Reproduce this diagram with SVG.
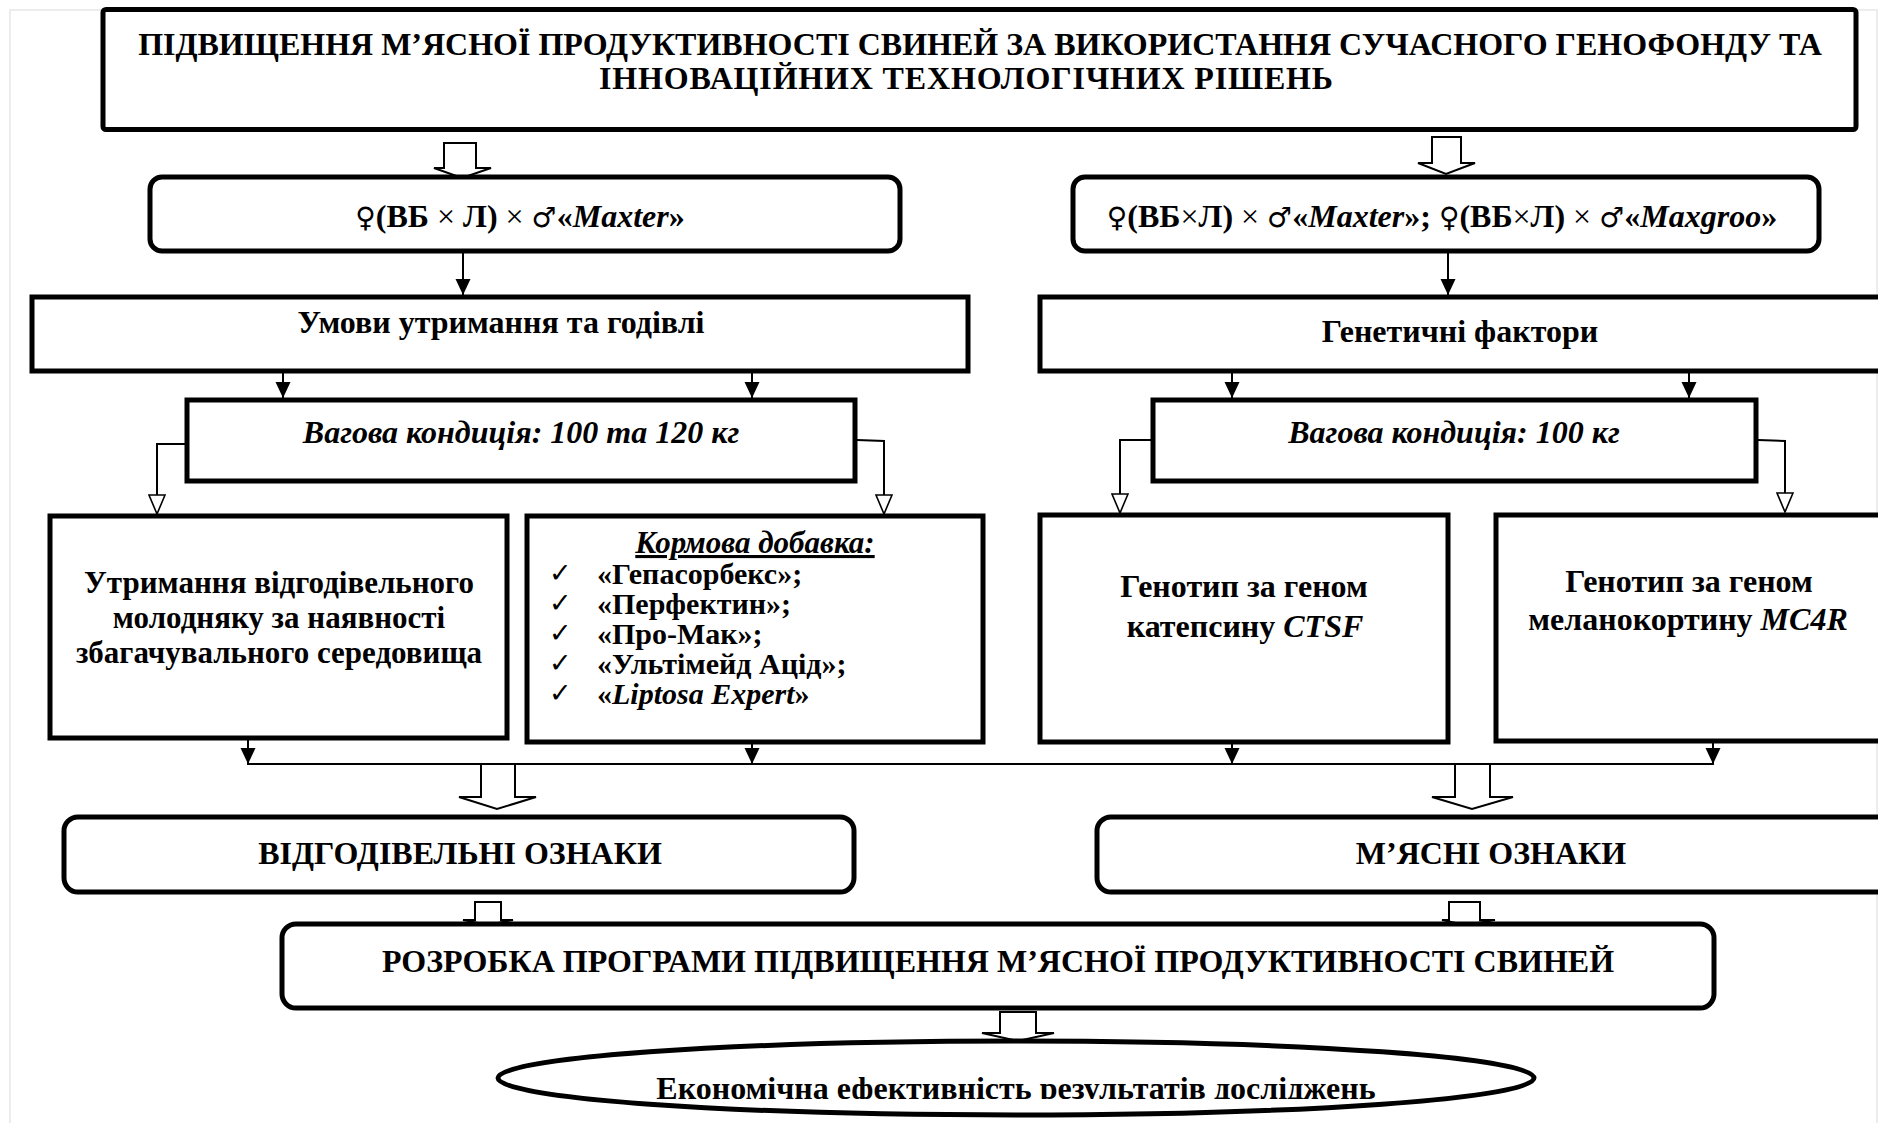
<svg xmlns="http://www.w3.org/2000/svg" width="1878" height="1123" viewBox="0 0 1878 1123">
<style>
.box{fill:#fff;stroke:#000;stroke-width:5}
.ln{fill:none;stroke:#000;stroke-width:2}
.hol{fill:#fff;stroke:#000;stroke-width:2;stroke-linejoin:miter}
.t{font-family:"Liberation Serif","Times New Roman",serif;font-weight:bold;font-size:32px;text-anchor:middle;fill:#000}
.s31{font-size:31px}
.s30{font-size:30px}
.l{text-anchor:start}
.i{font-style:italic}
.sym{font-family:"DejaVu Sans",sans-serif;font-weight:normal;font-size:28px}
.n{font-weight:normal}
.chk{font-family:"DejaVu Sans",sans-serif;font-weight:bold;font-size:27px;text-anchor:start}
.frame{fill:none;stroke:#ececec;stroke-width:2}
</style>
<defs>
<marker id="fa" markerUnits="userSpaceOnUse" viewBox="0 0 16 16" markerWidth="16" markerHeight="16" refX="16" refY="8" orient="auto">
<path d="M0,0.5 L16,8 L0,15.5 z" fill="#000"/>
</marker>
<marker id="oa" markerUnits="userSpaceOnUse" viewBox="-1 -1 22 18" markerWidth="22" markerHeight="18" refX="19" refY="8" orient="auto">
<path d="M0,0 L19,8 L0,16 z" fill="#fff" stroke="#000" stroke-width="1.6"/>
</marker>
<clipPath id="ec"><rect x="0" y="0" width="1878" height="1099"/></clipPath>
</defs>
<rect width="1878" height="1123" fill="#fff"/>
<path class="frame" d="M10,1123 V10 H1877 V1123"/>

<g id="connectors">
<polygon class="hol" points="444,143 476,143 476,168 491,168 462,178 434,168 444,168"/>
<polygon class="hol" points="1432,137 1461,137 1461,163 1475,163 1446,174 1418,163 1432,163"/>
<line class="ln" x1="463" y1="252" x2="463" y2="295" marker-end="url(#fa)"/>
<line class="ln" x1="1448" y1="252" x2="1448" y2="295" marker-end="url(#fa)"/>
<line class="ln" x1="283" y1="372" x2="283" y2="398" marker-end="url(#fa)"/>
<line class="ln" x1="752" y1="372" x2="752" y2="398" marker-end="url(#fa)"/>
<line class="ln" x1="1232" y1="372" x2="1232" y2="398" marker-end="url(#fa)"/>
<line class="ln" x1="1689" y1="372" x2="1689" y2="398" marker-end="url(#fa)"/>
<polyline class="ln" points="185,444 157,444 157,514" marker-end="url(#oa)"/>
<polyline class="ln" points="857,440 884,441 884,514" marker-end="url(#oa)"/>
<polyline class="ln" points="1151,440 1120,440 1120,513" marker-end="url(#oa)"/>
<polyline class="ln" points="1758,440 1785,441 1785,512" marker-end="url(#oa)"/>
<line class="ln" x1="248" y1="740" x2="248" y2="764" marker-end="url(#fa)"/>
<line class="ln" x1="752" y1="744" x2="752" y2="764" marker-end="url(#fa)"/>
<line class="ln" x1="1232" y1="744" x2="1232" y2="764" marker-end="url(#fa)"/>
<line class="ln" x1="1713" y1="743" x2="1713" y2="764" marker-end="url(#fa)"/>
<line class="ln" x1="247" y1="764" x2="1714" y2="764"/>
<polygon class="hol" points="481,764 515,764 515,797 536,797 497,809 459,797 481,797"/>
<polygon class="hol" points="1455,764 1490,764 1490,797 1513,797 1472,809 1432,797 1455,797"/>
<polygon class="hol" points="475,902 501,902 501,920 513,920 488,925 463,920 475,920"/>
<polygon class="hol" points="1449,902 1480,902 1480,920 1495,920 1465,925 1442,920 1449,920"/>
<polygon class="hol" points="1000,1012 1036,1012 1036,1033 1054,1033 1018,1041 982,1033 1000,1033"/>
</g>

<g id="n-title">
<rect class="box" x="103" y="9.5" width="1753" height="120" rx="3"/>
<text class="t" x="980" y="55">ПІДВИЩЕННЯ М’ЯСНОЇ ПРОДУКТИВНОСТІ СВИНЕЙ ЗА ВИКОРИСТАННЯ СУЧАСНОГО ГЕНОФОНДУ ТА</text>
<text class="t" x="966" y="89" textLength="734">ІННОВАЦІЙНИХ ТЕХНОЛОГІЧНИХ РІШЕНЬ</text>
</g>

<g id="n-cross1">
<rect class="box" x="150" y="177" width="750" height="74" rx="12"/>
<text class="t" x="520" y="227"><tspan class="sym">♀</tspan>(ВБ <tspan class="n">×</tspan> Л) <tspan class="n">×</tspan> <tspan class="sym">♂</tspan>«<tspan class="i">Maxter</tspan>»</text>
</g>

<g id="n-cross2">
<rect class="box" x="1073" y="177" width="746" height="74" rx="12"/>
<text class="t" x="1442" y="227"><tspan class="sym">♀</tspan>(ВБ<tspan class="n">×</tspan>Л) <tspan class="n">×</tspan> <tspan class="sym">♂</tspan>«<tspan class="i">Maxter</tspan>»; <tspan class="sym">♀</tspan>(ВБ<tspan class="n">×</tspan>Л) <tspan class="n">×</tspan> <tspan class="sym">♂</tspan>«<tspan class="i">Maxgroo</tspan>»</text>
</g>

<g id="n-umovy">
<rect class="box" x="32" y="297" width="936" height="74"/>
<text class="t" x="501" y="333">Умови утримання та годівлі</text>
</g>

<g id="n-genet">
<rect class="box" x="1040" y="297" width="850" height="74"/>
<text class="t" x="1460" y="342">Генетичні фактори</text>
</g>

<g id="n-vaga1">
<rect class="box" x="187" y="400" width="668" height="81"/>
<text class="t i" x="521" y="443">Вагова кондиція: 100 та 120 кг</text>
</g>

<g id="n-vaga2">
<rect class="box" x="1153" y="400" width="603" height="81"/>
<text class="t i" x="1454" y="443">Вагова кондиція: 100 кг</text>
</g>

<g id="n-utrym">
<rect class="box" x="50" y="516" width="457" height="222"/>
<text class="t s31" x="279" y="593">Утримання відгодівельного</text>
<text class="t s31" x="279" y="628">молодняку за наявності</text>
<text class="t s31" x="279" y="663">збагачувального середовища</text>
</g>

<g id="n-korm">
<rect class="box" x="527" y="516" width="456" height="226"/>
<text class="t i s31" x="755" y="553" text-decoration="underline">Кормова добавка:</text>
<text class="chk" x="549" y="582">✓</text>
<text class="chk" x="549" y="612">✓</text>
<text class="chk" x="549" y="642">✓</text>
<text class="chk" x="549" y="672">✓</text>
<text class="chk" x="549" y="702">✓</text>
<text class="t l s30" x="597" y="584">«Гепасорбекс»;</text>
<text class="t l s30" x="597" y="614">«Перфектин»;</text>
<text class="t l s30" x="597" y="644">«Про-Мак»;</text>
<text class="t l s30" x="597" y="674">«Ультімейд Ацід»;</text>
<text class="t l s30" x="597" y="704">«<tspan class="i">Liptosa Expert</tspan>»</text>
</g>

<g id="n-ctsf">
<rect class="box" x="1040" y="515" width="408" height="227"/>
<text class="t" x="1244" y="597">Генотип за геном</text>
<text class="t" x="1245" y="637">катепсину <tspan class="i">CTSF</tspan></text>
</g>

<g id="n-mc4r">
<rect class="box" x="1496" y="515" width="394" height="226"/>
<text class="t" x="1689" y="592">Генотип за геном</text>
<text class="t" x="1688" y="630">меланокортину <tspan class="i">MC4R</tspan></text>
</g>

<g id="n-vidgod">
<rect class="box" x="64" y="817" width="790" height="75" rx="14"/>
<text class="t" x="460" y="864">ВІДГОДІВЕЛЬНІ ОЗНАКИ</text>
</g>

<g id="n-myasni">
<rect class="box" x="1097" y="817" width="800" height="75" rx="14"/>
<text class="t" x="1491" y="864">М’ЯСНІ ОЗНАКИ</text>
</g>

<g id="n-rozrobka">
<rect class="box" x="282" y="924" width="1432" height="84" rx="14"/>
<text class="t" x="998" y="972">РОЗРОБКА ПРОГРАМИ ПІДВИЩЕННЯ М’ЯСНОЇ ПРОДУКТИВНОСТІ СВИНЕЙ</text>
</g>

<g id="n-econ">
<ellipse class="box" cx="1016" cy="1078" rx="518" ry="37"/>
<text class="t" x="1016" y="1099" clip-path="url(#ec)">Економічна ефективність результатів досліджень</text>
</g>
</svg>
